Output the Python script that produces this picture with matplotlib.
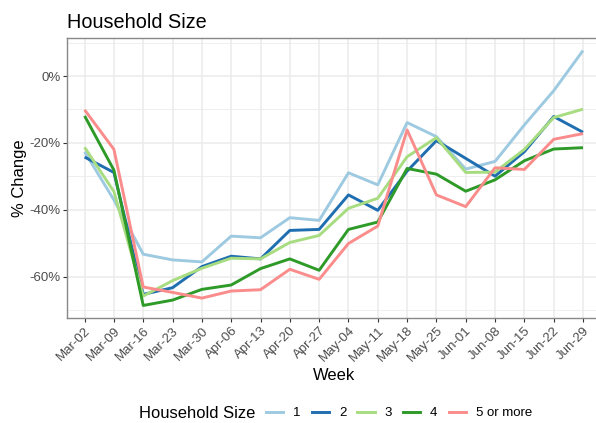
import matplotlib
matplotlib.use("Agg")
import matplotlib.pyplot as plt
from matplotlib.lines import Line2D

weeks = ["Mar-02", "Mar-09", "Mar-16", "Mar-23", "Mar-30", "Apr-06", "Apr-13",
         "Apr-20", "Apr-27", "May-04", "May-11", "May-18", "May-25", "Jun-01",
         "Jun-08", "Jun-15", "Jun-22", "Jun-29"]

size_1 = [-22.6, -37.0, -53.2, -54.9, -55.5, -47.8, -48.3, -42.3, -43.1, -28.9,
          -32.5, -13.9, -18.1, -27.8, -25.5, -14.6, -4.4, 7.6]
size_2 = [-24.2, -28.8, -65.2, -63.2, -56.9, -53.8, -54.6, -46.1, -45.8, -35.5,
          -40.1, -28.4, -19.3, -24.6, -29.9, -22.6, -12.1, -16.8]
size_3 = [-21.3, -34.5, -65.7, -61.1, -57.4, -54.4, -54.6, -49.7, -47.6, -39.5,
          -36.5, -24.1, -18.4, -28.8, -28.7, -21.9, -12.4, -9.9]
size_4 = [-11.9, -28.1, -68.5, -66.9, -63.7, -62.4, -57.5, -54.6, -58.0, -45.8,
          -43.6, -27.6, -29.3, -34.4, -31.0, -25.3, -21.8, -21.4]
size_5 = [-10.1, -21.9, -63.0, -64.6, -66.3, -64.2, -63.8, -57.7, -60.7, -50.0,
          -44.8, -16.1, -35.5, -39.0, -27.4, -27.9, -18.9, -17.2]

series_labels = ["1", "2", "3", "4", "5 or more"]
series_values = [size_1, size_2, size_3, size_4, size_5]
colors = ["#9ECAE1", "#1F6EB0", "#A8DC80", "#2E9A28", "#FA8C8C"]

y_major = [0, -20, -40, -60]
y_major_labels = ["0%", "-20%", "-40%", "-60%"]
y_minor = [10, -10, -30, -50, -70]

plt.rcParams["font.family"] = ["Liberation Sans", "DejaVu Sans"]

W, H = 596, 423
fig = plt.figure(figsize=(W / 100, H / 100), dpi=100)

left, right, top, bottom = 67, 600.6, 37.8, 318.2
ax = fig.add_axes([left / W, 1 - bottom / H, (right - left) / W, (bottom - top) / H])

x = list(range(len(weeks)))
for lab, vals, c in zip(series_labels, series_values, colors):
    ax.plot(x, vals, color=c, lw=2.1, solid_capstyle="butt",
            solid_joinstyle="round", label=lab, zorder=3)

allv = [v for s in series_values for v in s]
lo, hi = min(allv), max(allv)
pad = (hi - lo) * 0.05
ax.set_ylim(lo - pad, hi + pad)
ax.set_xlim(-0.6, len(weeks) - 1 + 0.6)

ax.set_yticks(y_major)
ax.set_yticklabels(y_major_labels)
ax.set_yticks(y_minor, minor=True)
ax.set_xticks(x)
ax.set_xticklabels(weeks, rotation=45, ha="right", va="top", rotation_mode="anchor")

ax.grid(True, which="major", color="#EBEBEB", lw=1.1, zorder=0)
ax.grid(True, which="minor", axis="y", color="#EBEBEB", lw=0.55, zorder=0)
ax.set_axisbelow(True)

for sp in ax.spines.values():
    sp.set_color("#888888")
    sp.set_linewidth(1.0)

ax.tick_params(axis="both", which="major", length=2.9, width=0.8, color="#333333",
               labelcolor="#4D4D4D", labelsize=9.5, pad=1.6)
ax.tick_params(axis="both", which="minor", length=0)

ax.set_xlabel("Week", fontsize=11.9, color="black", labelpad=3)
ax.set_ylabel("% Change", fontsize=11.9, color="black", labelpad=2)

fig.text(left / W, 1 - 28 / H, "Household Size", fontsize=14.3, color="black",
         ha="left", va="baseline")

# legend
leg_y = 1 - 413 / H
fig.text(139 / W, leg_y, "Household Size", fontsize=11.9, color="black",
         ha="left", va="center")
key_handles = [Line2D([0], [0], color=c, lw=2.1) for c in colors]
fig.legend(key_handles, series_labels, loc="center left",
           bbox_to_anchor=(266 / W, leg_y), ncol=5, frameon=False,
           fontsize=9.5, handlelength=1.3, handletextpad=0.75,
           columnspacing=0.85, borderpad=0, borderaxespad=0)

fig.savefig("out.png", dpi=100)
